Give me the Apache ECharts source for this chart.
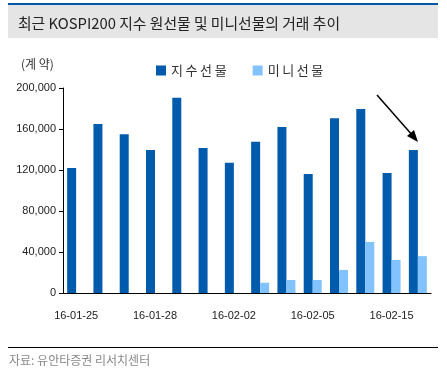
<!DOCTYPE html>
<html>
<head>
<meta charset="utf-8">
<script src="https://cdn.jsdelivr.net/npm/echarts@6/dist/echarts.min.js"></script>
<style>html,body{margin:0;padding:0;background:#fff}#c{width:447px;height:377px}</style>
</head>
<body>
<div id="c"></div>
<script>
var categories = ['16-01-25','16-01-26','16-01-27','16-01-28','16-01-29','16-02-01','16-02-02','16-02-03','16-02-04','16-02-05','16-02-11','16-02-12','16-02-15','16-02-16'];
var indexFutures = [122000,165000,155000,139500,190500,141500,127000,147500,162000,116000,170500,179500,117000,139500];
var miniFutures = [null,null,null,null,null,null,null,10000,12700,12700,22500,49800,32200,36000];
var yTicks = [0,40000,80000,120000,160000,200000];

var chart = echarts.init(document.getElementById('c'));
var font = '"Liberation Sans", Arial, sans-serif';
var kfont = '"Noto Sans CJK KR", sans-serif';
chart.setOption({
  animation: false,
  backgroundColor: '#fff',
  title: {
    text: '최근 KOSPI200 지수 원선물 및 미니선물의 거래 추이',
    left: 13, top: 11,
    textStyle: {fontFamily: kfont, fontSize: 14.8, fontWeight: 'normal', color: '#222'}
  },
  legend: {
    left: 151, top: 59, itemWidth: 10, itemHeight: 10, itemGap: 26,
    icon: 'rect',
    formatter: function(n){ return n.split('').join('\u2009'); },
    textStyle: {fontFamily: kfont, fontSize: 13, color: '#333'},
    data: ['지수선물','미니선물']
  },
  grid: {left: 63, right: 16, top: 88, bottom: 84, containLabel: false},
  xAxis: {
    type: 'category', data: categories,
    axisLine: {lineStyle: {color: '#000', width: 1}},
    axisTick: {interval: 2, length: 5, lineStyle: {color: '#000'}},
    axisLabel: {interval: 2, margin: 17, fontFamily: font, fontSize: 11, color: '#222'}
  },
  yAxis: {
    type: 'value', min: yTicks[0], max: yTicks[yTicks.length-1], interval: 40000,
    axisLine: {show: true, lineStyle: {color: '#000'}},
    axisTick: {show: true, length: 4, lineStyle: {color: '#000'}},
    splitLine: {show: false},
    axisLabel: {margin: 7, fontFamily: font, fontSize: 11, color: '#222',
      formatter: function(v){ return v.toLocaleString('en-US'); }}
  },
  series: [
    {name: '지수선물', type: 'bar', data: indexFutures, barWidth: 9, barGap: '0%',
     itemStyle: {color: '#005BAC'}},
    {name: '미니선물', type: 'bar', data: miniFutures, barWidth: 9,
     itemStyle: {color: '#82C3FF'}}
  ],
  graphic: [
    {type: 'rect', shape: {x: 8, y: 3, width: 430, height: 2}, style: {fill: '#0058A8'}, z: -1},
    {type: 'rect', shape: {x: 8, y: 5, width: 430, height: 33}, style: {fill: '#E5E5E5'}, z: -2},
    {type: 'text', left: 21, top: 58, style: {text: '(계 약)', font: '12px "Noto Sans CJK KR"', fill: '#333'}},
    {type: 'line', shape: {x1: 377, y1: 95, x2: 413, y2: 136}, style: {stroke: '#000', lineWidth: 1.5}},
    {type: 'polygon', shape: {points: [[418,142],[407,136],[414,130]]}, style: {fill: '#000'}},
    {type: 'rect', shape: {x: 8, y: 347, width: 430, height: 1}, style: {fill: '#000'}},
    {type: 'text', left: 9, top: 354, style: {text: '자료: 유안타증권 리서치센터', font: '12px "Noto Sans CJK KR"', fill: '#888'}}
  ]
});
</script>
</body>
</html>
